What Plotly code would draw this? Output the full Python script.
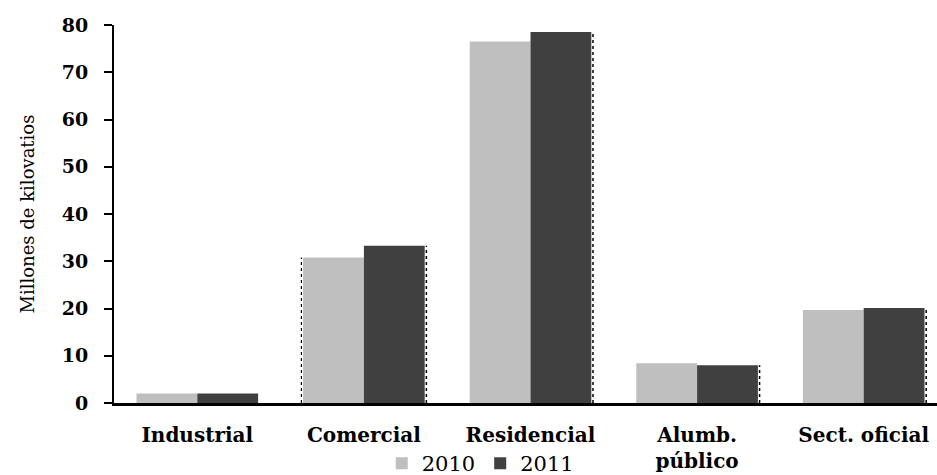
import plotly.graph_objects as go

categories = ["Industrial", "Comercial", "Residencial", "Alumb.<br>público", "Sect. oficial"]
values_2010 = [2.0, 30.8, 76.5, 8.4, 19.7]
values_2011 = [2.0, 33.3, 78.5, 8.0, 20.1]
y_ticks = [0, 10, 20, 30, 40, 50, 60, 70, 80]

FONT = "DejaVu Serif"

fig = go.Figure()
fig.add_trace(go.Bar(name="2010", x=categories, y=values_2010, marker_color="#bfbfbf",
                     marker_line_width=0))
fig.add_trace(go.Bar(name="2011", x=categories, y=values_2011, marker_color="#404040",
                     marker_line_width=0))

# dotted drop lines at right edge of 2011 bars
bargap = 0.27
half = (1 - bargap) / 2
for i, v in enumerate(values_2011):
    if i == 0:
        continue
    fig.add_shape(type="line", xref="x", yref="y",
                  x0=i + half + 0.01, x1=i + half + 0.01, y0=0, y1=v,
                  line=dict(color="black", width=1.5, dash="dot"))
# dotted line at left edge of the Comercial 2010 bar
fig.add_shape(type="line", xref="x", yref="y",
              x0=1 - half - 0.01, x1=1 - half - 0.01, y0=0, y1=values_2010[1],
              line=dict(color="black", width=1.2, dash="dot"))

fig.update_layout(
    width=937, height=475,
    margin=dict(l=114, r=0, t=25, b=72, autoexpand=False),
    plot_bgcolor="white", paper_bgcolor="white",
    barmode="group", bargap=bargap, bargroupgap=0,
    font=dict(family=FONT, color="black"),
    showlegend=True,
    legend=dict(orientation="h", x=0.445, xanchor="center", y=-0.16, yanchor="middle",
                font=dict(family=FONT, size=21, color="black"),
                itemwidth=30, tracegroupgap=0),
    xaxis=dict(range=[-0.5, 4.44], showline=True, linecolor="black", linewidth=3,
               ticks="", showgrid=False, zeroline=False, automargin=False,
               ticklabelstandoff=12,
               tickfont=dict(family=FONT, size=20, color="black", weight="bold")),
    yaxis=dict(range=[0, 80], tickvals=y_ticks, showline=True, linecolor="black", linewidth=2,
               ticks="outside", ticklen=8, tickwidth=2, tickcolor="black",
               showgrid=False, zeroline=False, automargin=False,
               ticklabelstandoff=12,
               tickfont=dict(family=FONT, size=19, color="black", weight="bold"),
               title=dict(text="Millones de kilovatios", standoff=22,
                          font=dict(family=FONT, size=18, color="black"))),
)

fig.write_html("out.html", config={"displayModeBar": False},
               post_script="document.body.style.margin='0';")
